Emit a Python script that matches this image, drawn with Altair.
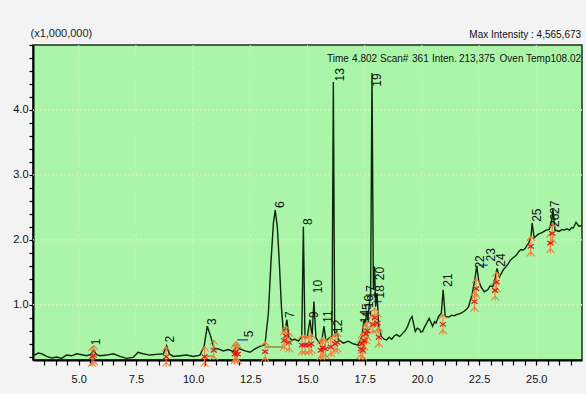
import altair as alt
import pandas as pd

FONT = "Liberation Sans, Arial, sans-serif"

# TIC trace: retention time (min) and intensity (x1,000,000)
trace_time = [
    3.00, 3.23, 3.38, 3.60, 3.82, 4.04, 4.25, 4.47, 4.69, 4.91, 5.13, 5.35, 5.52, 5.64, 5.78,
    5.93, 6.22, 6.51, 6.80, 7.09, 7.38, 7.59, 7.81, 8.11, 8.40, 8.70, 8.84, 8.96, 9.13, 9.43,
    9.72, 10.01, 10.30, 10.48, 10.62, 10.77, 10.91, 11.10, 11.32, 11.54, 11.76, 11.90, 12.05,
    12.27, 12.49, 12.70, 12.92, 13.14, 13.29, 13.40, 13.51, 13.59, 13.68, 13.77, 13.86, 13.94,
    14.03, 14.10, 14.18, 14.31, 14.45, 14.60, 14.75, 14.82, 14.89, 14.99, 15.11, 15.20, 15.28,
    15.37, 15.52, 15.63, 15.72, 15.81, 15.95, 16.07, 16.13, 16.19, 16.28, 16.36, 16.57, 16.78,
    17.00, 17.22, 17.37, 17.47, 17.52, 17.59, 17.64, 17.70, 17.76, 17.82, 17.88, 17.93, 17.98,
    18.04, 18.11, 18.24, 18.35, 18.46, 18.57, 18.68, 18.79, 18.90, 19.03, 19.16, 19.27, 19.38,
    19.48, 19.57, 19.71, 19.80, 19.89, 19.96, 20.03, 20.12, 20.21, 20.32, 20.47, 20.55, 20.62,
    20.73, 20.85, 20.93, 21.02, 21.19, 21.30, 21.41, 21.52, 21.64, 21.75, 21.85, 21.95, 22.04,
    22.19, 22.31, 22.40, 22.48, 22.58, 22.73, 22.88, 22.98, 23.10, 23.21, 23.28, 23.39, 23.47,
    23.56, 23.66, 23.75, 23.86, 23.97, 24.05, 24.14, 24.24, 24.33, 24.42, 24.52, 24.60, 24.67,
    24.77, 24.82, 24.91, 25.06, 25.16, 25.25, 25.34, 25.43, 25.57, 25.68, 25.73, 25.82, 25.92,
    26.01, 26.12, 26.23, 26.34, 26.45, 26.55, 26.62, 26.74, 26.86, 27.00,
]
trace_intensity = [
    0.215, 0.257, 0.246, 0.205, 0.180, 0.195, 0.175, 0.226, 0.215, 0.246, 0.231, 0.215, 0.236, 0.300, 0.231,
    0.215, 0.226, 0.246, 0.205, 0.175, 0.190, 0.267, 0.246, 0.226, 0.236, 0.246, 0.370, 0.246, 0.205, 0.215,
    0.226, 0.205, 0.226, 0.360, 0.670, 0.510, 0.330, 0.320, 0.290, 0.310, 0.280, 0.360, 0.320,
    0.290, 0.270, 0.320, 0.360, 0.385, 0.870, 1.640, 2.260, 2.460, 2.200, 1.640, 0.970, 0.590,
    0.620, 0.770, 0.510, 0.460, 0.470, 0.440, 0.510, 2.200, 0.490, 0.510, 0.770, 0.510, 1.050,
    0.490, 0.410, 0.460, 0.670, 0.440, 0.490, 0.510, 4.430, 0.510, 0.590, 0.460, 0.410, 0.440,
    0.400, 0.380, 0.510, 0.770, 0.670, 0.900, 0.770, 1.000, 1.180, 4.570, 1.230, 1.590, 0.970,
    1.180, 0.670, 0.510, 0.470, 0.460, 0.500, 0.470, 0.520, 0.540, 0.510, 0.560, 0.600, 0.670,
    0.770, 0.820, 0.590, 0.640, 0.620, 0.580, 0.590, 0.660, 0.720, 0.790, 0.670, 0.740, 0.720,
    0.820, 0.870, 1.230, 0.820, 0.810, 0.840, 0.830, 0.850, 0.860, 0.880, 0.900, 0.930, 0.970,
    1.150, 1.380, 1.600, 1.380, 1.280, 1.200, 1.230, 1.290, 1.280, 1.410, 1.560, 1.430, 1.480,
    1.540, 1.580, 1.620, 1.680, 1.720, 1.740, 1.770, 1.820, 1.850, 1.840, 1.870, 1.920, 1.950,
    2.050, 2.260, 2.030, 2.080, 2.100, 2.110, 2.130, 2.150, 2.160, 2.310, 2.470, 2.150, 2.140,
    2.130, 2.160, 2.150, 2.170, 2.150, 2.190, 2.180, 2.270, 2.210, 2.220,
]

# Peak numbers and where their labels sit
peak_labels = ["1", "2", "3", "5", "6", "7", "8", "9", "10", "11", "12", "13", "14", "15", "16",
               "17", "18", "20", "19", "21", "22", "23", "24", "25", "26", "27"]
label_time = [5.75, 8.99, 10.81, 12.45, 13.80, 14.24, 15.04, 15.30, 15.47, 15.91, 16.35, 16.40,
              17.50, 17.58, 17.68, 17.76, 18.17, 18.17, 18.02, 21.14, 22.55, 23.02, 23.46, 25.02,
              25.83, 25.83]
label_intensity = [0.43, 0.47, 0.74, 0.55, 2.54, 0.85, 2.28, 0.85, 1.28, 0.82, 0.67, 4.54,
                   0.82, 0.92, 1.05, 1.20, 1.20, 1.48, 4.46, 1.38, 1.66, 1.77, 1.69, 2.38,
                   2.30, 2.50]

# Integration start / end marks
marker_time = [5.58, 5.66, 8.82, 10.50, 10.90, 11.82, 11.88, 11.95, 13.15, 13.98, 14.06, 14.20,
               14.76, 14.90, 15.06, 15.16, 15.58, 15.66, 15.78, 16.02, 16.20, 16.30, 17.33, 17.38,
               17.42, 17.48, 17.55, 17.62, 17.86, 17.94, 18.06, 18.12, 20.92, 22.30, 22.37, 23.20,
               23.26, 24.76, 25.62, 25.70]
marker_intensity = [0.20, 0.22, 0.20, 0.20, 0.30, 0.24, 0.28, 0.24, 0.28, 0.45, 0.52, 0.42,
                    0.38, 0.38, 0.38, 0.40, 0.30, 0.34, 0.32, 0.35, 0.40, 0.42, 0.32, 0.40,
                    0.30, 0.45, 0.55, 0.60, 0.70, 0.80, 0.72, 0.50, 0.70, 1.05, 1.25, 1.22,
                    1.35, 1.90, 1.95, 2.10]

# Integration baselines
base_start = [10.50, 11.93, 13.17, 17.88, 22.48]
base_end = [10.90, 12.40, 14.00, 18.24, 22.88]
base_level = [0.21, 0.46, 0.35, 1.05, 1.61]
base_color = ["#c08040", "#3060c0", "#a08030", "#3060c0", "#3060c0"]

# Scan information line and maximum intensity note
left_text = ["Time", "4.802", "Scan#", "361", "Inten."]
left_time = [15.85, 16.95, 18.17, 19.57, 20.44]
right_text = ["213,375", "Oven Temp108.02", "Max Intensity : 4,565,673"]
right_time = [23.20, 26.96, 26.96]
right_level = [4.74, 4.74, 5.11]
header_level = 4.74

x_major = [5.0, 7.5, 10.0, 12.5, 15.0, 17.5, 20.0, 22.5, 25.0]
y_major = [1.0, 2.0, 3.0, 4.0]
x_ticks = [round(3.5 + 0.5 * k, 2) for k in range(47)]
y_ticks = [round(0.2 * k, 2) for k in range(1, 26)]

trace_df = pd.DataFrame({"t": trace_time, "i": trace_intensity})
label_df = pd.DataFrame({"label": peak_labels, "t": label_time, "i": label_intensity})
marker_df = pd.DataFrame({"t": marker_time, "i": marker_intensity})
base_df = pd.DataFrame({"t0": base_start, "t1": base_end, "i": base_level, "c": base_color})
left_df = pd.DataFrame({"txt": left_text, "t": left_time, "i": [header_level] * len(left_text)})
right_df = pd.DataFrame({"txt": right_text, "t": right_time, "i": right_level})
xgrid_df = pd.DataFrame({"v": x_major})
ygrid_df = pd.DataFrame({"v": y_major})

xs = alt.Scale(domain=[3, 27], nice=False, zero=False)
ys = alt.Scale(domain=[0.15, 5.0], nice=False, zero=False)

x_axis = alt.Axis(
    values=x_ticks,
    labelExpr="abs(datum.value/2.5 - round(datum.value/2.5)) < 0.001 && datum.value >= 5 ? format(datum.value, '.1f') : ''",
    grid=False, domainColor="black", domainWidth=2, tickColor="black", tickSize=5, tickWidth=1.2,
    labelFont=FONT, labelFontSize=11, labelColor="#111", labelPadding=8,
    labelOverlap=False, labelFlush=False, title=None,
)
y_axis = alt.Axis(
    values=y_ticks,
    labelExpr="abs(datum.value - round(datum.value)) < 0.001 && datum.value >= 1 && datum.value <= 4 ? format(datum.value, '.1f') : ''",
    grid=False, domainColor="black", domainWidth=2, tickColor="black", tickSize=4, tickWidth=1.2,
    labelFont=FONT, labelFontSize=11, labelColor="#111", labelPadding=1,
    labelOverlap=False, labelFlush=False,
    title="(x1,000,000)", titleAngle=0, titleAlign="left", titleBaseline="alphabetic",
    titleX=-3, titleY=-9, titleFont=FONT, titleFontSize=11, titleFontWeight="normal", titleColor="#222",
)


def X(field):
    return alt.X(field, scale=xs, axis=x_axis)


def Y(field):
    return alt.Y(field, scale=ys, axis=y_axis)


xgrid = alt.Chart(xgrid_df).mark_rule(color="#c6f0bf", strokeDash=[4, 3], strokeWidth=1).encode(
    x=X("v:Q")
)
ygrid = alt.Chart(ygrid_df).mark_rule(color="#d4f3c0", strokeDash=[2, 2], strokeWidth=1.4).encode(
    y=Y("v:Q")
)

baselines = alt.Chart(base_df).mark_rule(strokeWidth=1.5).encode(
    x=X("t0:Q"), x2="t1:Q", y=Y("i:Q"), color=alt.Color("c:N", scale=None),
)

trace = alt.Chart(trace_df).mark_line(color="#0b260b", strokeWidth=1.4, clip=True).encode(
    x=X("t:Q"), y=Y("i:Q"), order="t:Q"
)

# Integration marks: an upward arrow with a small red cross through it
arrow_path = "M0,-1L0,1M-0.4,-0.55L0,-1L0.4,-0.55M-0.4,1L0,0.55L0.4,1"
cross_path = "M-0.35,-0.25L0.35,0.25M0.35,-0.25L-0.35,0.25"
arrows = alt.Chart(marker_df).mark_point(
    shape=arrow_path, size=400, filled=False, color="#ec8038", strokeWidth=1.1, opacity=1
).encode(x=X("t:Q"), y=Y("i:Q"))
crosses = alt.Chart(marker_df).mark_point(
    shape=cross_path, size=300, filled=False, color="#e01818", strokeWidth=1.2, opacity=1
).encode(x=X("t:Q"), y=Y("i:Q"))

labels = alt.Chart(label_df).mark_text(
    angle=270, align="center", baseline="middle", font=FONT, fontSize=12, color="#111"
).encode(x=X("t:Q"), y=Y("i:Q"), text="label:N")

left_notes = alt.Chart(left_df).mark_text(
    align="left", baseline="alphabetic", font=FONT, fontSize=10, color="#111"
).encode(x=X("t:Q"), y=Y("i:Q"), text="txt:N")
right_notes = alt.Chart(right_df).mark_text(
    align="right", baseline="alphabetic", font=FONT, fontSize=10, color="#111"
).encode(x=X("t:Q"), y=Y("i:Q"), text="txt:N")

chart = (
    alt.layer(xgrid, ygrid, baselines, trace, arrows, crosses, labels, left_notes, right_notes)
    .properties(
        width=549,
        height=315,
        autosize=alt.AutoSizeParams(type="none"),
        padding={"left": 33, "top": 45, "right": 4, "bottom": 34},
        background="#f3f3f3",
    )
    .configure_axis(labelOverlap=False)
    .configure_view(fill="#abf5a9", stroke="#1f2f1f", strokeWidth=1.5)
)

chart.save("out.html", embed_options={"renderer": "svg", "actions": False})
